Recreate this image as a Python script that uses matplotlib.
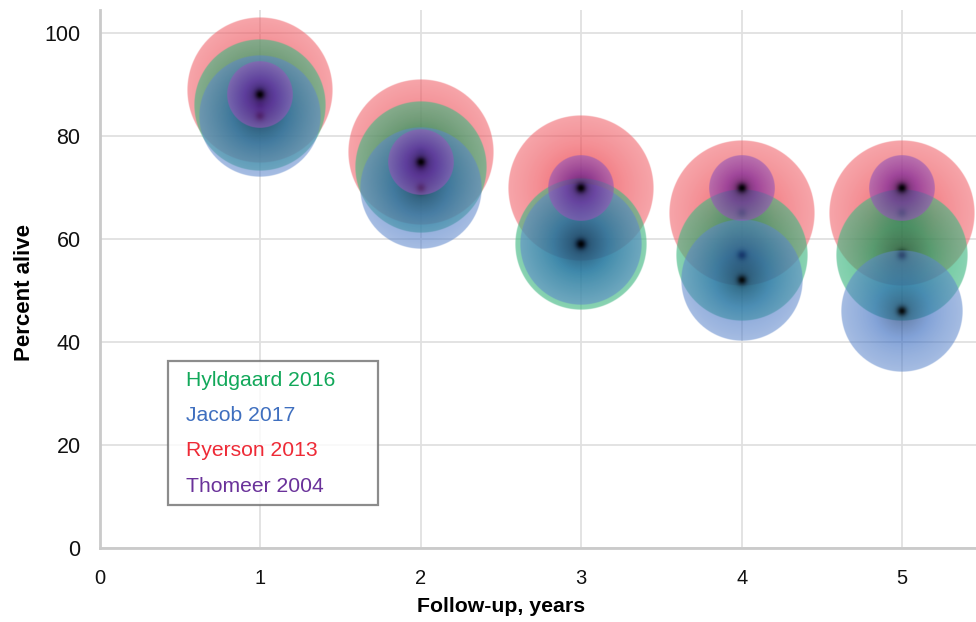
import numpy as np
import matplotlib
matplotlib.use("Agg")
import matplotlib.pyplot as plt
from matplotlib.colors import to_rgb

# Survival data (percent alive) by follow-up year
years = [1, 2, 3, 4, 5]
hyldgaard_2016 = [86, 74, 59, 57, 57]
jacob_2017 = [84, 70, 59, 52, 46]
ryerson_2013 = [89, 77, 70, 65, 65]
thomeer_2004 = [88, 75, 70, 70, 70]

series_names = ["Hyldgaard 2016", "Jacob 2017", "Ryerson 2013", "Thomeer 2004"]
series_values = [hyldgaard_2016, jacob_2017, ryerson_2013, thomeer_2004]

# Styling
text_colors = {"Hyldgaard 2016": "#12a85a", "Jacob 2017": "#3f6fbf",
               "Ryerson 2013": "#ee2a36", "Thomeer 2004": "#6a329a"}
bubble_colors = {"Hyldgaard 2016": "#06a25c", "Jacob 2017": "#2c62bc",
                 "Ryerson 2013": "#ec3a44", "Thomeer 2004": "#7424a2"}
bubble_alpha = {"Hyldgaard 2016": 0.62, "Jacob 2017": 0.56,
                "Ryerson 2013": 0.6, "Thomeer 2004": 0.62}
bubble_radius_px = {"Hyldgaard 2016": 66, "Jacob 2017": 61,
                    "Ryerson 2013": 73, "Thomeer 2004": 33}
draw_order = ["Ryerson 2013", "Hyldgaard 2016", "Jacob 2017", "Thomeer 2004"]

W, H, DPI = 976, 622, 100
fig = plt.figure(figsize=(W / DPI, H / DPI), dpi=DPI)
ax = fig.add_axes([100 / W, 1 - 548 / H, 1 - 100 / W, (548 - 10) / H])
XMAX, YMAX = 5.46, 104.5
ax.set_xlim(0, XMAX)
ax.set_ylim(0, YMAX)


def bubble_rgba(color, radius_px, base_alpha, n=321):
    yy, xx = np.mgrid[-1:1:n * 1j, -1:1:n * 1j]
    r = np.sqrt(xx ** 2 + yy ** 2)
    base = np.array(to_rgb(color))
    dark = base * 0.6
    light = base + (1 - base) * 0.24
    t = np.clip(r, 0, 1)[..., None]
    rgb = np.where(t < 0.45, dark + (base - dark) * (t / 0.45),
                   base + (light - base) * ((t - 0.45) / 0.55))
    core = np.exp(-(r * radius_px / 5.0) ** 2)[..., None]
    rgb = rgb * (1 - 0.95 * core)
    alpha = base_alpha + 0.12 * np.exp(-(r / 0.4) ** 2) + 0.28 * core[..., 0]
    edge = np.clip((1 - r) * n / 2, 0, 1)
    alpha = alpha * edge
    return np.dstack([np.clip(rgb, 0, 1), np.clip(alpha, 0, 1)])


def data_extent(x, y, rpx):
    cx, cy = ax.transData.transform((x, y))
    inv = ax.transData.inverted()
    x0, y0 = inv.transform((cx - rpx, cy - rpx))
    x1, y1 = inv.transform((cx + rpx, cy + rpx))
    return [x0, x1, y0, y1]


for name in draw_order:
    vals = series_values[series_names.index(name)]
    rpx = bubble_radius_px[name]
    img = bubble_rgba(bubble_colors[name], rpx, bubble_alpha[name])
    for x, v in zip(years, vals):
        ax.imshow(img, extent=data_extent(x, v, rpx), origin="lower",
                  interpolation="bilinear", zorder=3, aspect="auto")

ax.set_xlim(0, XMAX)
ax.set_ylim(0, YMAX)

# Grid and axes
ax.set_xticks([0, 1, 2, 3, 4, 5])
ax.set_yticks([0, 20, 40, 60, 80, 100])
ax.grid(True, color="#e0e0e0", linewidth=1.3, zorder=0)
ax.set_axisbelow(True)
for s in ["top", "right"]:
    ax.spines[s].set_visible(False)
for s in ["left", "bottom"]:
    ax.spines[s].set_color("#cacaca")
    ax.spines[s].set_linewidth(2)
ax.tick_params(length=0, colors="#111111")
ax.tick_params(axis="x", pad=15, labelsize=14.5)
ax.tick_params(axis="y", pad=14, labelsize=15.5)
for lab in ax.get_xticklabels() + ax.get_yticklabels():
    lab.set_family("Liberation Sans")

ax.set_xlabel("Follow-up, years", fontsize=15.3, fontweight="bold",
              family="Liberation Sans")
ax.set_ylabel("Percent alive", fontsize=16, fontweight="bold",
              family="Liberation Sans")
ax.xaxis.set_label_coords((501 - 100) / 876, -(597 - 548) / 538)
ax.yaxis.set_label_coords(-(100 - 35) / 876, (548 - 293) / 538)

# Text-only legend
handles = [plt.Line2D([], [], linestyle="none") for _ in series_names]
leg = ax.legend(handles, series_names, loc="upper left", mode="expand",
                bbox_to_anchor=(68 / 876, (548 - 505) / 538, 210 / 876, 144 / 538),
                handlelength=0, handletextpad=0.4, frameon=True, fancybox=False,
                borderpad=0.45, labelspacing=0.78, borderaxespad=0,
                prop={"family": "Liberation Sans", "size": 15.2})
leg.get_frame().set_edgecolor("#707070")
leg.get_frame().set_linewidth(1.6)
leg.set_zorder(5)
for txt, name in zip(leg.get_texts(), series_names):
    txt.set_color(text_colors[name])

fig.savefig("out.png", dpi=DPI)
